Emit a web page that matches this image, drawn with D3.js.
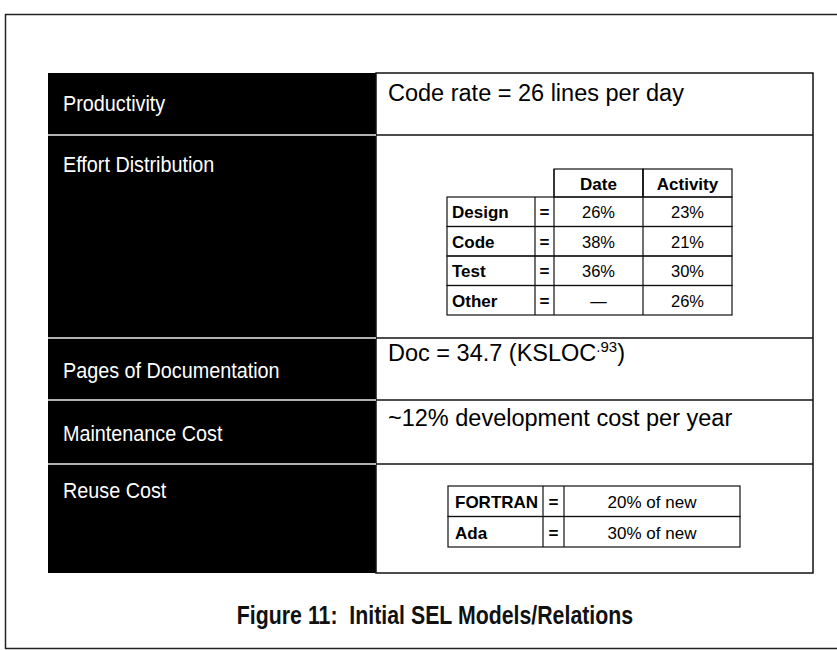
<!DOCTYPE html>
<html>
<head>
<meta charset="utf-8">
<script src="https://cdn.jsdelivr.net/npm/d3@7"></script>
<style>
  html, body { margin: 0; background: #fff; overflow: hidden; }
  svg { display: block; }
  text { font-family: "Liberation Sans", Arial, Helvetica, sans-serif; }
</style>
</head>
<body>
<div id="chart"></div>
<script>
// --------------------------------------
//  Data
// --------------------------------------

const sections = ["Productivity", "Effort Distribution", "Pages of Documentation", "Maintenance Cost", "Reuse Cost"];
const codeRate = 26;
const docCoef = 34.7;
const docExp = ".93";
const maintPct = 12;

const phases = ["Design", "Code", "Test", "Other"];
const effortCols = ["Date", "Activity"];
const dateShare = ["26%", "38%", "36%", "\u2014"];
const activityShare = ["23%", "21%", "30%", "26%"];

const languages = ["FORTRAN", "Ada"];
const reuseShare = ["20% of new", "30% of new"];

const title = "Figure 11:  Initial SEL Models/Relations";

// --------------------------------------
//  Canvas and layout
// --------------------------------------

const width = 837;
const height = 650;

const svg = d3.select("#chart")
  .append("svg")
    .attr("width", width)
    .attr("height", height);

// outer frame: top, left, bottom (right edge runs off the page)
svg.append("path")
    .attr("d", "M837,14.5 H5.5 V648.5 H837")
    .attr("fill", "none")
    .attr("stroke", "#222")
    .attr("stroke-width", 1.5);

const left = 48, mid = 376, right = 813;
const rowEdges = [73, 135, 338, 400, 464, 573];
const labelDy = [38, 37, 40, 41, 34];

const y = d3.scaleOrdinal().domain(sections).range(rowEdges.slice(0, -1));

// black label column
svg.append("rect")
    .attr("x", left).attr("y", rowEdges[0])
    .attr("width", mid - left).attr("height", rowEdges[rowEdges.length - 1] - rowEdges[0])
    .attr("fill", "#000");

// right content column
svg.append("rect")
    .attr("x", mid).attr("y", rowEdges[0])
    .attr("width", right - mid).attr("height", rowEdges[rowEdges.length - 1] - rowEdges[0])
    .attr("fill", "#fff")
    .attr("stroke", "#111")
    .attr("stroke-width", 1.5);

// row separators
svg.append("g")
  .selectAll("line")
  .data(sections.slice(1))
  .join("line")
    .attr("x1", left).attr("x2", mid)
    .attr("y1", d => y(d)).attr("y2", d => y(d))
    .attr("stroke", "#eee")
    .attr("stroke-width", 1.5);

svg.append("g")
  .selectAll("line")
  .data(sections.slice(1))
  .join("line")
    .attr("x1", mid).attr("x2", right)
    .attr("y1", d => y(d)).attr("y2", d => y(d))
    .attr("stroke", "#111")
    .attr("stroke-width", 1.5);

// labels (tall, slightly condensed)
svg.append("g")
  .selectAll("text")
  .data(sections)
  .join("text")
    .attr("transform", (d, i) => `translate(63, ${y(d) + labelDy[i]}) scale(0.9, 1)`)
    .attr("fill", "#fff")
    .attr("font-size", 22)
    .text(d => d);

// --------------------------------------
//  Right column texts
// --------------------------------------

const big = 23.5;

svg.append("text")
    .attr("x", 388).attr("y", y("Productivity") + 28)
    .attr("font-size", big)
    .text(`Code rate = ${codeRate} lines per day`);

const doc = svg.append("text")
    .attr("x", 388).attr("y", y("Pages of Documentation") + 23)
    .attr("font-size", big);
doc.append("tspan").text(`Doc = ${docCoef} (KSLOC`);
doc.append("tspan").attr("dy", -9).attr("font-size", 15).text(docExp);
doc.append("tspan").attr("dy", 9).text(")");

svg.append("text")
    .attr("x", 388).attr("y", y("Maintenance Cost") + 26)
    .attr("font-size", big)
    .text(`~${maintPct}% development cost per year`);

// --------------------------------------
//  Effort distribution table
// --------------------------------------

const eff = svg.append("g");
const colX = [447, 535, 554, 643, 732];   // label | = | Date | Activity
const headTop = 169;

const ey = d3.scaleBand().domain(phases).range([197, 315]);
const ex = d3.scaleBand().domain(effortCols).range([colX[2], colX[4]]);

eff.selectAll("rect")
  .data(effortCols)
  .join("rect")
    .attr("x", d => ex(d)).attr("y", headTop)
    .attr("width", ex.bandwidth()).attr("height", ey.range()[0] - headTop)
    .attr("fill", "none").attr("stroke", "#111").attr("stroke-width", 1.2);

eff.selectAll("text")
  .data(effortCols)
  .join("text")
    .attr("x", d => ex(d) + ex.bandwidth() / 2)
    .attr("y", headTop + 21)
    .attr("text-anchor", "middle")
    .attr("font-size", 17).attr("font-weight", "bold")
    .text(d => d);

const bodyRows = eff.selectAll("g")
  .data(phases)
  .join("g")
    .attr("transform", d => `translate(0, ${ey(d)})`);

bodyRows.append("rect")
    .attr("x", colX[0]).attr("width", colX[4] - colX[0])
    .attr("height", ey.bandwidth())
    .attr("fill", "none").attr("stroke", "#111").attr("stroke-width", 1.2);

bodyRows.append("text")
    .attr("x", colX[0] + 5).attr("y", 21)
    .attr("font-size", 17).attr("font-weight", "bold")
    .text(d => d);

bodyRows.append("text")
    .attr("x", (colX[1] + colX[2]) / 2).attr("y", 21)
    .attr("text-anchor", "middle")
    .attr("font-size", 17).attr("font-weight", "bold")
    .text("=");

bodyRows.append("text")
    .attr("x", ex("Date") + ex.bandwidth() / 2).attr("y", 21)
    .attr("text-anchor", "middle").attr("font-size", 16.5)
    .text((d, i) => dateShare[i]);

bodyRows.append("text")
    .attr("x", ex("Activity") + ex.bandwidth() / 2).attr("y", 21)
    .attr("text-anchor", "middle").attr("font-size", 16.5)
    .text((d, i) => activityShare[i]);

eff.selectAll("line")
  .data([colX[1], colX[2], colX[3]])
  .join("line")
    .attr("x1", d => d).attr("x2", d => d)
    .attr("y1", (d, i) => i === 0 ? ey.range()[0] : headTop)
    .attr("y2", ey.range()[1])
    .attr("stroke", "#111").attr("stroke-width", 1.2);

// --------------------------------------
//  Reuse cost table
// --------------------------------------

const reuse = svg.append("g");
const rColX = [448, 543, 564, 740];
const ry = d3.scaleBand().domain(languages).range([486, 547]);

const rRows = reuse.selectAll("g")
  .data(languages)
  .join("g")
    .attr("transform", d => `translate(0, ${ry(d)})`);

rRows.append("rect")
    .attr("x", rColX[0]).attr("width", rColX[3] - rColX[0])
    .attr("height", ry.bandwidth())
    .attr("fill", "none").attr("stroke", "#111").attr("stroke-width", 1.2);

rRows.append("text")
    .attr("x", rColX[0] + 7).attr("y", 22)
    .attr("font-size", 17).attr("font-weight", "bold")
    .text(d => d);

rRows.append("text")
    .attr("x", (rColX[1] + rColX[2]) / 2).attr("y", 22)
    .attr("text-anchor", "middle")
    .attr("font-size", 17).attr("font-weight", "bold")
    .text("=");

rRows.append("text")
    .attr("x", (rColX[2] + rColX[3]) / 2).attr("y", 22)
    .attr("text-anchor", "middle").attr("font-size", 17)
    .text((d, i) => reuseShare[i]);

reuse.selectAll("line")
  .data([rColX[1], rColX[2]])
  .join("line")
    .attr("x1", d => d).attr("x2", d => d)
    .attr("y1", ry.range()[0]).attr("y2", ry.range()[1])
    .attr("stroke", "#111").attr("stroke-width", 1.2);

// --------------------------------------
//  Caption (bold, condensed)
// --------------------------------------

svg.append("text")
    .attr("transform", "translate(435, 624) scale(0.82, 1)")
    .attr("text-anchor", "middle")
    .attr("font-size", 26).attr("font-weight", "bold")
    .attr("fill", "#111")
    .style("white-space", "pre")
    .text(title);
</script>
</body>
</html>
